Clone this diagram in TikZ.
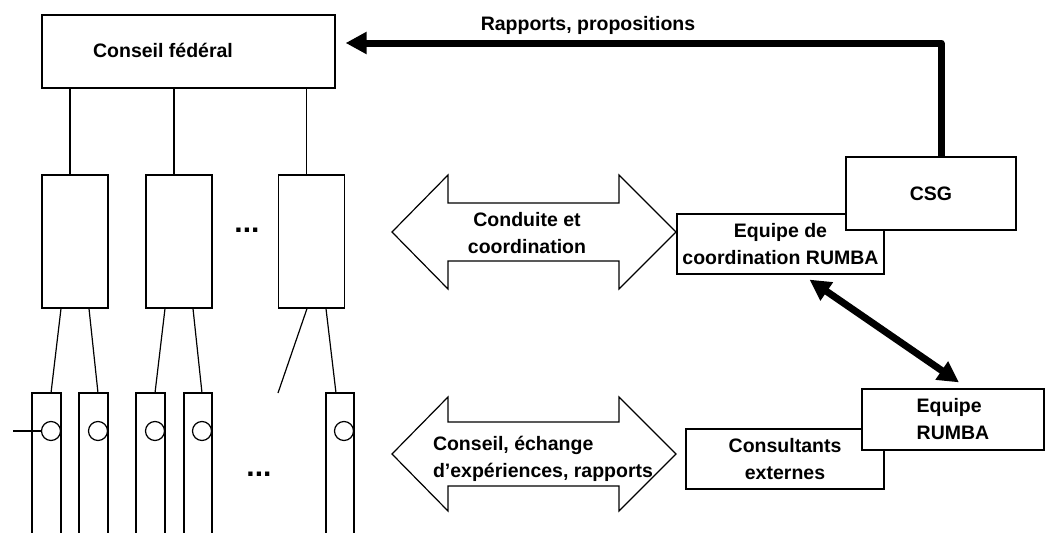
\documentclass[tikz,border=0pt]{standalone}
\usepackage{fontspec}
\setmainfont{Liberation Sans}
\usetikzlibrary{%
  arrows.meta,%
  calc%
}
\tikzset{>={Triangle[length=21pt,width=21pt]}, box/.style = {draw, fill=white,
    line width=1.2pt, inner sep=0pt, align=center},%
  wire/.style={line width=1.2pt},%
  port/.style={circle, draw, fill=white, line width=1.2pt, minimum size=19pt, inner sep=0pt},%
  fat/.style={line width=7pt, line join=round},%
  blockarrow/.style={draw, line width=1.2pt, line join=miter}}

\begin{document}
\begin{tikzpicture}[x=1pt, y=-1pt, font=\fontsize{19.5}{27}\selectfont\bfseries]
  \useasboundingbox (0,0) rectangle (1045,533);
  \node[box, minimum width=293pt, minimum height=73pt] (cf) at (188.5,51.5) {};
  \node (cftext) at (163,50) {Conseil fédéral};
  \foreach \n/\x in {1/75, 2/179, 3/311.5}
    \node[box, minimum width=66pt, minimum height=133pt] (m\n) at (\x,241.5) {};
  \foreach \n in {1,2,3}
    \draw[wire] ([xshift=-5pt]m\n.north) -- ([xshift=-5pt]m\n.north |- cf.south);
  \foreach \n/\l/\r/\h in {1/32/61/51, 2/79/108/98, 3/136/165/155, 4/184/212/202, 5/326/354/336} {
    \draw[wire] (\l,533) -- (\l,393) -- (\r,393) -- (\r,533);
    \coordinate (t\n) at (\h,393);
    \node[port] (c\n) at (\r-10,431) {};
  }
  \coordinate (loose) at (278,393);
  \coordinate (feed) at (13,431);
  \draw[wire] (feed) -- (c1);
  \draw[wire] ([xshift=-14pt]m1.south) -- (t1);
  \draw[wire] ([xshift=14pt]m1.south) -- (t2);
  \draw[wire] ([xshift=-14pt]m2.south) -- (t3);
  \draw[wire] ([xshift=14pt]m2.south) -- (t4);
  \draw[wire] ([xshift=-4.5pt]m3.south) -- (loose);
  \draw[wire] ([xshift=14.5pt]m3.south) -- (t5);
  \node[font=\fontsize{30}{30}\selectfont\bfseries] (dotsup) at (247,230) {...};
  \node[font=\fontsize{30}{30}\selectfont\bfseries] (dotsdown) at (259,474) {...};
  \draw[blockarrow] (392,232) -- (448,175) -- (448,203) -- (619,203) -- (619,175) -- (676,232)
    -- (619,289) -- (619,261) -- (448,261) -- (448,289) -- cycle;
  \node[align=center] (lead) at (527,233) {Conduite et\\coordination};
  \draw[blockarrow] (392,454) -- (448,397) -- (448,422) -- (619,422) -- (619,397) -- (676,454)
    -- (619,511) -- (619,486) -- (448,486) -- (448,511) -- cycle;
  \node[align=left] (advice) at (543,459) {Conseil, échange\\d’expériences, rapports};
  \node[box, minimum width=207pt, minimum height=60pt] (coord) at (780.5,244) {Equipe de\\coordination RUMBA};
  \node[box, minimum width=170pt, minimum height=73pt] (csg) at (931,193.5) {CSG};
  \node[box, minimum width=198pt, minimum height=60pt] (ext) at (785,459) {Consultants\\externes};
  \node[box, minimum width=182pt, minimum height=61pt, align=left] (rumba) at (953,419.5) {Equipe\\RUMBA};
  \coordinate (cfin) at ($(cf.east)+(10,-8.5)$);
  \draw[fat, ->] ([xshift=10pt]csg.north) |- (cfin);
  \node (reports) at (588,25) {Rapports, propositions};
  \draw[fat, <->] ($(coord.south)+(29,5)$) -- ($(rumba.north)+(6,-6)$);
\end{tikzpicture}
\end{document}
